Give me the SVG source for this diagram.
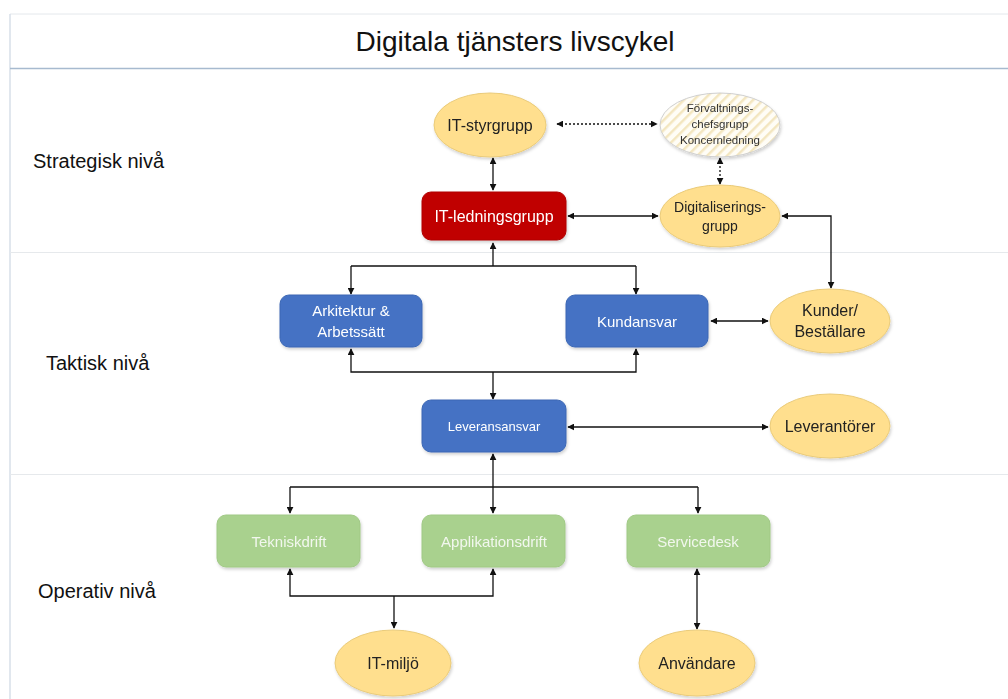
<svg xmlns="http://www.w3.org/2000/svg" width="1008" height="699" viewBox="0 0 1008 699">
<style>
text{font-family:"Liberation Sans",Arial,sans-serif;text-anchor:middle;dominant-baseline:central}
.lane{font-size:20px;fill:#111;text-anchor:start}
.ell{fill:#FFDF8E;stroke:#EACB7A;stroke-width:1}
.dark{fill:#222;font-size:16px}
.w{fill:#fff}
.g{fill:#F2F7EE;font-size:15px}
.blue{fill:#4472C4;stroke:#3C67B4}
.green{fill:#A9D18E;stroke:#A0C985}
.c{fill:none;stroke:#111;stroke-width:1.3;marker-start:url(#a);marker-end:url(#a)}
.c1{fill:none;stroke:#111;stroke-width:1.3;marker-end:url(#a)}
.d{stroke-dasharray:2 2}
.sm{font-size:11.5px;fill:#333}
</style>
<defs>
<marker id="a" viewBox="0 0 10 10" refX="9" refY="5" markerWidth="7" markerHeight="7" orient="auto-start-reverse" markerUnits="userSpaceOnUse"><path d="M0,0L10,5L0,10z" fill="#111"/></marker>
<pattern id="h" width="7" height="7" patternUnits="userSpaceOnUse" patternTransform="rotate(45)"><rect width="7" height="7" fill="#FFFDF6"/><rect width="2.5" height="7" fill="#F3E6C0"/></pattern>
<filter id="s" x="-20%" y="-20%" width="140%" height="150%"><feDropShadow dx="1" dy="2" stdDeviation="1.5" flood-color="#000" flood-opacity="0.18"/></filter>
</defs>
<rect width="1008" height="699" fill="#fff"/>
<g id="frame" fill="none">
<line x1="10" y1="14" x2="1008" y2="14" stroke="#E4E8EC"/>
<line x1="10" y1="14" x2="10" y2="699" stroke="#D7DFE8" stroke-width="1.5"/>
<line x1="10" y1="68.5" x2="1008" y2="68.5" stroke="#A7BACF" stroke-width="1.5"/>
<line x1="10" y1="252.5" x2="1008" y2="252.5" stroke="#E6E9EC"/>
<line x1="10" y1="474.5" x2="1008" y2="474.5" stroke="#E6E9EC"/>
</g>
<text x="515" y="41" font-size="28" fill="#111">Digitala tjänsters livscykel</text>
<g id="lanes">
<text class="lane" x="33" y="161">Strategisk nivå</text>
<text class="lane" x="46" y="363">Taktisk nivå</text>
<text class="lane" x="38" y="591">Operativ nivå</text>
</g>
<g id="connectors">
<line class="c d" x1="557" y1="124" x2="657" y2="124"/>
<line class="c" x1="493" y1="158" x2="493" y2="190"/>
<line class="c d" x1="720" y1="158" x2="720" y2="184"/>
<line class="c" x1="568" y1="216" x2="658" y2="216"/>
<polyline class="c" points="782,216 831,216 831,288"/>
<line class="c1" x1="493" y1="266" x2="493" y2="243"/>
<polyline class="c1" points="351,266 351,294"/>
<polyline class="c1" points="636,266 636,294"/>
<line x1="351" y1="266" x2="636" y2="266" stroke="#111" stroke-width="1.3"/>
<polyline class="c" points="351,349 351,372 636,372 636,349"/>
<line class="c1" x1="493" y1="372" x2="493" y2="399"/>
<line class="c" x1="711" y1="321" x2="768" y2="321"/>
<line class="c" x1="568" y1="427" x2="768" y2="427"/>
<line class="c1" x1="493" y1="487" x2="493" y2="454"/>
<line x1="290" y1="487" x2="698" y2="487" stroke="#111" stroke-width="1.3"/>
<line class="c1" x1="290" y1="487" x2="290" y2="513"/>
<line class="c1" x1="493" y1="487" x2="493" y2="513"/>
<line class="c1" x1="698" y1="487" x2="698" y2="513"/>
<polyline class="c" points="290,569 290,596 493,596 493,569"/>
<line class="c1" x1="394" y1="596" x2="394" y2="628"/>
<line class="c" x1="697" y1="569" x2="697" y2="629"/>
</g>
<g id="it-styrgrupp" filter="url(#s)"><ellipse class="ell" cx="490" cy="125" rx="56" ry="32"/><text class="dark" x="490" y="125">IT-styrgrupp</text></g>
<g id="forvaltningschefsgrupp" filter="url(#s)"><ellipse cx="720" cy="125" rx="60" ry="32" fill="url(#h)" stroke="#CFCFCF"/><text class="sm" x="720" y="108">Förvaltnings-</text><text class="sm" x="720" y="124">chefsgrupp</text><text class="sm" x="720" y="140">Koncernledning</text></g>
<g id="it-ledningsgrupp" filter="url(#s)"><rect x="422" y="192" width="144" height="48" rx="9" fill="#C00000" stroke="#B00000"/><text class="w" x="494" y="216" font-size="16">IT-ledningsgrupp</text></g>
<g id="digitaliseringsgrupp" filter="url(#s)"><ellipse class="ell" cx="720" cy="216" rx="60" ry="31"/><text x="720" y="207" font-size="14" fill="#222">Digitaliserings-</text><text x="720" y="226" font-size="14" fill="#222">grupp</text></g>
<g id="arkitektur" filter="url(#s)"><rect class="blue" x="280" y="295" width="142" height="52" rx="9"/><text class="w" x="351" y="310" font-size="15">Arkitektur &amp;</text><text class="w" x="351" y="331" font-size="15">Arbetssätt</text></g>
<g id="kundansvar" filter="url(#s)"><rect class="blue" x="566" y="295" width="142" height="52" rx="9"/><text class="w" x="637" y="321" font-size="15">Kundansvar</text></g>
<g id="kunder" filter="url(#s)"><ellipse class="ell" cx="830" cy="321" rx="60" ry="32"/><text class="dark" x="830" y="310">Kunder/</text><text class="dark" x="830" y="331">Beställare</text></g>
<g id="leveransansvar" filter="url(#s)"><rect class="blue" x="422" y="400" width="144" height="52" rx="9"/><text class="w" x="494" y="426" font-size="13">Leveransansvar</text></g>
<g id="leverantorer" filter="url(#s)"><ellipse class="ell" cx="830" cy="426" rx="60" ry="32"/><text class="dark" x="830" y="426">Leverantörer</text></g>
<g id="tekniskdrift" filter="url(#s)"><rect class="green" x="217" y="515" width="143" height="52" rx="9"/><text class="g" x="289" y="541">Tekniskdrift</text></g>
<g id="applikationsdrift" filter="url(#s)"><rect class="green" x="422" y="515" width="143" height="52" rx="9"/><text class="g" x="494" y="541">Applikationsdrift</text></g>
<g id="servicedesk" filter="url(#s)"><rect class="green" x="627" y="515" width="143" height="52" rx="9"/><text class="g" x="698" y="541">Servicedesk</text></g>
<g id="it-miljo" filter="url(#s)"><ellipse class="ell" cx="393" cy="663" rx="58" ry="33"/><text class="dark" x="393" y="663">IT-miljö</text></g>
<g id="anvandare" filter="url(#s)"><ellipse class="ell" cx="697" cy="663" rx="58" ry="33"/><text class="dark" x="697" y="663">Användare</text></g>
</svg>
